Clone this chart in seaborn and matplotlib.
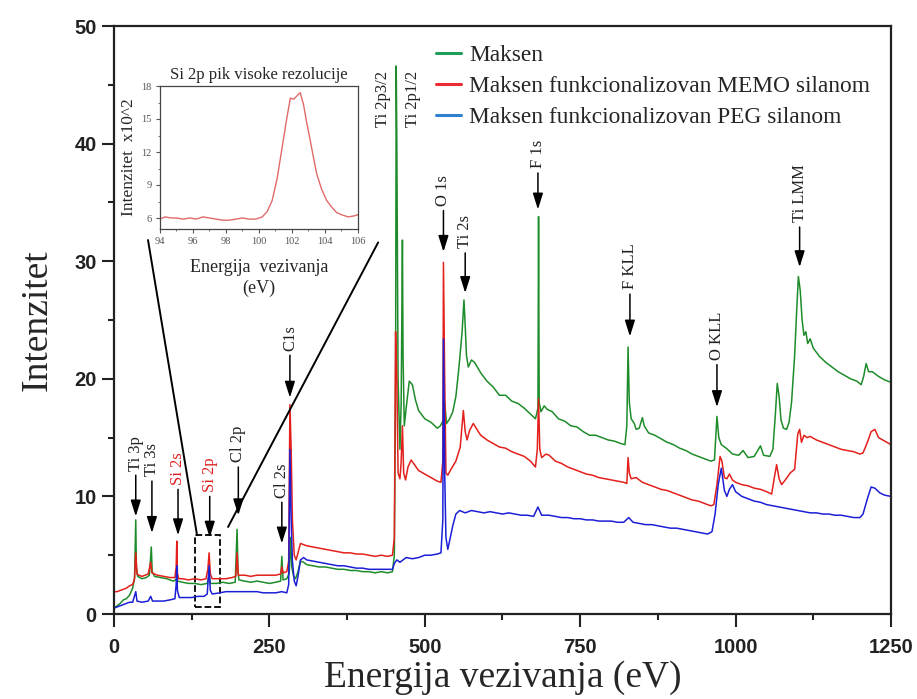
import numpy as np
import pandas as pd
import matplotlib
matplotlib.use('Agg')
import matplotlib.pyplot as plt
from matplotlib.lines import Line2D
from matplotlib.patches import Rectangle
from matplotlib.ticker import MultipleLocator
import seaborn as sns

# XPS survey spectra (energy in eV, intensity)
maksen_e = [0, 5, 10, 15, 20, 25, 30, 33, 35, 36, 38, 45, 52, 57, 60, 61.5, 65, 75, 85, 95,
            100, 101, 102, 110, 120, 130, 140, 150, 153, 155, 165, 175, 185, 195, 198, 199.5,
            201, 210, 220, 230, 240, 250, 260, 268, 270, 272, 278, 282, 284, 286, 289, 292,
            296, 300, 305, 310, 320, 330, 340, 350, 360, 370, 380, 390, 400, 410, 420, 430,
            440, 448, 451, 453, 454, 455, 456, 457, 460, 462, 464, 465, 467, 470, 475, 480,
            485, 490, 500, 510, 520, 525, 530, 532, 535, 540, 545, 550, 555, 560, 563, 565,
            567, 570, 575, 580, 590, 600, 610, 620, 630, 640, 650, 660, 670, 678, 682, 683,
            684, 687, 692, 697, 705, 715, 725, 735, 745, 755, 765, 775, 785, 795, 805, 815,
            822, 825, 827, 829, 832, 837, 840, 845, 850, 853, 860, 870, 880, 890, 900, 910,
            920, 930, 940, 950, 960, 966, 970, 973, 977, 985, 995, 1005, 1012, 1020, 1030,
            1040, 1045, 1055, 1060, 1064, 1067, 1070, 1073, 1077, 1082, 1086, 1090, 1095,
            1098, 1101, 1104, 1107, 1110, 1113, 1116, 1120, 1125, 1135, 1145, 1155, 1165,
            1175, 1185, 1195, 1202, 1206, 1210, 1214, 1220, 1230, 1240, 1250]
maksen_i = [0.5, 0.7, 0.9, 1.2, 1.3, 1.6, 2.2, 3.0, 8.0, 4.0, 3.2, 3.0, 3.1, 3.3, 5.7, 3.6, 3.2, 3.1, 3.0, 2.8,
            2.9, 3.6, 2.8, 2.7, 2.6, 2.6, 2.5, 2.6, 3.3, 2.6, 2.6, 2.7, 2.6, 2.7, 7.2, 3.6,
            2.9, 2.8, 2.7, 2.8, 2.7, 2.6, 2.7, 2.8, 4.9, 2.9, 3.0, 3.5, 6.5, 4.0, 3.2, 3.0,
            3.6, 4.5, 4.4, 4.2, 4.1, 4.0, 4.0, 3.9, 3.8, 3.8, 3.7, 3.7, 3.6, 3.6, 3.5, 3.6,
            3.5, 3.6, 5.0, 20.0, 46.6, 40.0, 30.0, 20.0, 14.0, 18.0, 31.8, 22.0, 16.0, 17.5, 19.8, 19.5,
            18.2, 17.3, 16.6, 16.3, 15.8, 16.0, 16.5, 18.0, 16.2, 16.6, 17.2, 18.5, 21.0, 24.0, 26.7, 24.5,
            22.0, 21.0, 21.6, 21.4, 20.5, 19.8, 19.3, 18.6, 18.6, 18.1, 17.9, 17.5, 17.0, 16.6, 17.5, 33.8,
            18.0, 17.2, 17.7, 17.4, 17.2, 16.6, 16.4, 16.0, 15.9, 15.5, 15.2, 15.2, 15.0, 14.8, 14.7, 14.5,
            14.4, 16.0, 22.7, 18.0, 16.6, 16.2, 15.7, 15.8, 16.7, 16.0, 15.4, 15.2, 14.9, 14.6, 14.4, 14.1,
            13.9, 13.6, 13.4, 13.2, 13.0, 13.1, 16.8, 15.0, 14.4, 14.1, 13.6, 13.5, 13.9, 13.3, 13.4,
            14.3, 13.5, 13.4, 14.0, 17.0, 19.6, 18.5, 16.5, 15.8, 15.7, 16.3, 18.0, 22.0,
            25.5, 28.7, 27.5, 25.0, 23.7, 24.0, 23.0, 23.4, 22.6, 21.9, 21.4, 21.0, 20.6,
            20.3, 20.0, 19.8, 19.5, 20.2, 21.3, 20.6, 20.6, 20.2, 19.9, 19.7]

memo_e = [0, 5, 10, 15, 20, 25, 30, 33, 35, 37, 40, 45, 50, 55, 59, 61, 65, 70, 80, 90, 98,
          100, 101, 102, 104, 110, 120, 130, 140, 148, 151, 153, 155, 158, 170, 180, 190,
          196, 198, 200, 210, 220, 230, 240, 250, 260, 268, 270, 272, 278, 281, 283, 285,
          287, 290, 293, 297, 300, 305, 310, 320, 330, 340, 350, 360, 370, 380, 390, 400,
          410, 420, 430, 440, 448, 451, 453, 455, 457, 460, 462, 464, 466, 469, 473, 478,
          482, 490, 500, 510, 520, 526, 529, 530, 532, 534, 537, 542, 550, 557, 562, 565,
          568, 572, 578, 585, 590, 600, 610, 620, 630, 640, 650, 660, 670, 678, 681, 683,
          685, 688, 695, 700, 710, 720, 730, 740, 750, 760, 770, 780, 790, 800, 810, 820,
          825, 827, 829, 832, 840, 850, 860, 870, 880, 890, 900, 910, 920, 930, 940, 950,
          960, 965, 970, 975, 978, 982, 986, 990, 995, 1000, 1010, 1020, 1030, 1040, 1050,
          1058, 1062, 1066, 1070, 1074, 1080, 1088, 1095, 1100, 1103, 1106, 1110, 1115,
          1120, 1130, 1140, 1150, 1160, 1170, 1180, 1190, 1200, 1205, 1212, 1218, 1224,
          1230, 1240, 1250]
memo_i = [1.9, 1.9, 2.0, 2.1, 2.2, 2.4, 2.5, 3.0, 5.2, 3.4, 3.3, 3.2, 3.3, 3.4, 4.4, 3.5, 3.4, 3.3, 3.2, 3.1, 3.1,
          4.0, 6.2, 3.5, 3.0, 3.0, 2.9, 3.0, 2.9, 3.0, 3.8, 5.2, 3.4, 3.0, 3.0, 3.0, 3.1,
          3.2, 5.2, 3.3, 3.3, 3.2, 3.3, 3.3, 3.3, 3.3, 3.4, 4.0, 3.5, 3.6, 4.5, 17.8, 14.0,
          8.0, 5.0, 4.6, 5.4, 6.0, 5.9, 5.8, 5.7, 5.6, 5.5, 5.4, 5.3, 5.2, 5.2, 5.1, 5.1,
          5.0, 4.9, 5.0, 4.9, 5.0, 6.5, 24.0, 20.0, 12.0, 11.5, 13.0, 16.0, 12.0, 11.4, 12.5, 13.1,
          12.8, 12.2, 11.9, 11.6, 11.3, 11.2, 13.0, 29.9, 20.0, 12.0, 11.8, 12.3, 13.0, 14.2, 17.3, 15.5,
          14.8, 15.6, 16.2, 15.6, 15.2, 14.8, 14.5, 14.2, 14.1, 13.8, 13.6, 13.4, 13.0, 12.5, 14.0, 18.3,
          14.0, 13.3, 13.6, 13.5, 13.0, 12.8, 12.5, 12.3, 12.1, 11.9, 11.8, 11.6, 11.5, 11.4, 11.3, 11.2,
          11.1, 13.3, 12.0, 11.5, 11.6, 11.2, 11.0, 10.8, 10.6, 10.5, 10.3, 10.1, 9.9, 9.7, 9.6, 9.4,
          9.2, 9.3, 11.0, 13.4, 13.0, 11.6, 11.5, 11.9, 11.4, 11.2, 11.0, 10.9, 10.7, 10.6, 10.4,
          10.2, 11.5, 12.7, 11.5, 11.0, 11.4, 12.0, 12.3, 15.3, 15.7, 14.6, 15.2, 15.0,
          15.1, 14.8, 14.6, 14.4, 14.2, 14.0, 13.9, 13.8, 13.6, 13.7, 14.6, 15.5, 15.7,
          15.0, 14.7, 14.4]

peg_e = [0, 5, 10, 15, 20, 25, 30, 35, 37, 45, 55, 59, 62, 70, 80, 90, 98, 100, 101, 102, 105,
         115, 125, 135, 145, 150, 153, 155, 158, 170, 180, 190, 200, 210, 220, 230, 240, 250,
         260, 270, 278, 281, 283, 285, 287, 290, 293, 296, 300, 305, 310, 320, 330, 340, 350,
         360, 370, 380, 390, 400, 410, 420, 430, 440, 448, 451, 455, 460, 470, 480, 490, 500,
         510, 520, 526, 529, 530, 532, 534, 537, 541, 545, 550, 556, 565, 575, 585, 595, 605,
         615, 625, 635, 645, 655, 665, 675, 682, 688, 700, 710, 720, 730, 740, 750, 760, 770,
         780, 790, 800, 810, 820, 828, 835, 845, 855, 865, 875, 885, 895, 905, 915, 925, 935,
         945, 955, 962, 967, 972, 977, 982, 986, 990, 995, 1000, 1010, 1020, 1030, 1040, 1050,
         1060, 1070, 1080, 1090, 1100, 1110, 1120, 1130, 1140, 1150, 1160, 1170, 1180, 1190,
         1200, 1205, 1212, 1218, 1224, 1232, 1240, 1250]
peg_i = [0.5, 0.6, 0.7, 0.8, 0.9, 1.0, 1.0, 1.9, 1.1, 1.0, 1.1, 1.5, 1.1, 1.1, 1.1, 1.2, 1.3, 2.5, 4.1, 2.0, 1.4,
         1.4, 1.4, 1.5, 1.5, 1.7, 4.1, 2.0, 1.7, 1.8, 1.9, 1.9, 1.9, 1.9, 1.9, 1.9, 1.8, 1.8,
         1.8, 1.9, 1.8, 2.5, 14.0, 8.0, 4.5, 2.8, 2.4, 3.2, 4.6, 4.8, 4.6, 4.5, 4.4, 4.3, 4.2,
         4.1, 4.1, 4.0, 3.9, 3.9, 3.8, 3.8, 3.8, 3.8, 3.8, 4.3, 4.6, 4.4, 4.8, 4.7, 4.8, 5.0,
         5.0, 5.1, 5.2, 8.0, 23.4, 12.0, 6.5, 5.5, 6.5, 7.5, 8.5, 8.8, 8.6, 8.8, 8.7, 8.6, 8.7,
         8.6, 8.5, 8.6, 8.5, 8.4, 8.4, 8.3, 9.1, 8.4, 8.4, 8.3, 8.2, 8.2, 8.1, 8.1, 8.0, 8.0,
         7.9, 7.9, 7.9, 7.8, 7.8, 8.2, 7.8, 7.7, 7.6, 7.6, 7.5, 7.4, 7.3, 7.3, 7.2, 7.1, 7.0,
         6.9, 6.8, 7.0, 8.5, 11.0, 12.4, 10.5, 10.0, 10.6, 11.0, 10.4, 10.0, 9.8, 9.6, 9.5, 9.3,
         9.2, 9.1, 9.0, 8.9, 8.8, 8.7, 8.6, 8.6, 8.5, 8.5, 8.4, 8.4, 8.3, 8.2,
         8.2, 8.5, 9.8, 10.8, 10.7, 10.3, 10.1, 10.0]

# high resolution Si 2p peak (inset)
si2p_e = [94, 94.3, 94.7, 95, 95.4, 95.8, 96.2, 96.6, 97, 97.4, 97.8, 98.2, 98.6, 99, 99.4,
          99.8, 100.2, 100.5, 100.8, 101.1, 101.4, 101.7, 101.9, 102.1, 102.3, 102.5, 102.7,
          102.9, 103.1, 103.3, 103.5, 103.8, 104.1, 104.4, 104.7, 105.0, 105.4, 105.8, 106]
si2p_i = [5.9, 6.1, 6.0, 6.0, 5.9, 6.0, 5.9, 6.1, 6.0, 5.9, 5.8, 5.8, 5.9, 6.0, 5.9,
          5.9, 6.1, 6.6, 7.6, 9.6, 12.4, 15.2, 16.9, 16.8, 17.1, 17.4, 16.3,
          14.6, 13.1, 11.5, 10.0, 8.6, 7.6, 7.0, 6.5, 6.3, 6.1, 6.2, 6.3]

labels = ['Maksen', 'Maksen funkcionalizovan MEMO silanom', 'Maksen funkcionalizovan PEG silanom']
line_colors = ['#1e8c2a', '#e3201b', '#1c1fd6']
legend_colors = ['#1f9e5a', '#ee2a33', '#2f80d0']

# peak labels: (energy, arrow tip, label bottom, text, colour)
peaks = [
    (35, 8.3, 12.2, 'Ti 3p', '#222222'),
    (61, 6.9, 11.7, 'Ti 3s', '#222222'),
    (103, 6.7, 11.0, 'Si 2s', '#e02020'),
    (154, 6.5, 10.4, 'Si 2p', '#e02020'),
    (200, 8.4, 12.9, 'Cl 2p', '#222222'),
    (270, 6.0, 9.9, 'Cl 2s', '#222222'),
    (283, 18.4, 22.4, 'C1s', '#222222'),
    (530, 30.8, 34.7, 'O 1s', '#222222'),
    (565, 27.3, 31.1, 'Ti 2s', '#222222'),
    (682, 34.4, 37.9, 'F 1s', '#222222'),
    (830, 23.6, 27.6, 'F KLL', '#222222'),
    (970, 17.6, 21.6, 'O KLL', '#222222'),
    (1103, 29.5, 33.3, 'Ti LMM', '#222222'),
]
plain_labels = [(433, 41.4, 'Ti 2p3/2'), (481, 41.4, 'Ti 2p1/2')]

# zoom box around Si 2p and the lines to the inset
box_x, box_y, box_w, box_h = 130, 0.6, 41, 6.1
zoom_left = ([54.7, 133.6], [31.8, 6.7])
zoom_right = ([425, 183.5], [31.6, 7.4])

sns.set_style('ticks')
plt.rcParams['font.family'] = ['Liberation Serif', 'DejaVu Serif']

df = pd.DataFrame({
    'Energija': maksen_e + memo_e + peg_e,
    'Intenzitet': maksen_i + memo_i + peg_i,
    'Uzorak': [labels[0]] * len(maksen_e) + [labels[1]] * len(memo_e) + [labels[2]] * len(peg_e),
})

fig = plt.figure(figsize=(9.17, 6.99), dpi=100)
ax = fig.add_axes([114 / 917, 1 - 614 / 699, 777 / 917, 588 / 699])

sns.lineplot(data=df, x='Energija', y='Intenzitet', hue='Uzorak', hue_order=labels,
             palette=dict(zip(labels, line_colors)), estimator=None, linewidth=1.1,
             legend=False, ax=ax)

ax.set_xlim(0, 1250)
ax.set_ylim(0, 50)
ax.xaxis.set_major_locator(MultipleLocator(250))
ax.xaxis.set_minor_locator(MultipleLocator(125))
ax.yaxis.set_major_locator(MultipleLocator(10))
ax.yaxis.set_minor_locator(MultipleLocator(5))
ax.tick_params(which='major', length=9, width=1.5, direction='out', colors='#222222')
ax.tick_params(which='minor', length=4.5, width=1.5, direction='out', colors='#222222')
ax.tick_params(axis='x', which='major', pad=8)
for lab in ax.get_xticklabels() + ax.get_yticklabels():
    lab.set_family('Liberation Sans')
    lab.set_fontweight('bold')
    lab.set_fontsize(14.5)
for sp in ax.spines.values():
    sp.set_linewidth(1.6)
    sp.set_color('#222222')

ax.set_xlabel('Energija vezivanja (eV)', fontsize=27, labelpad=3)
ax.set_ylabel('Intenzitet', fontsize=27, labelpad=14)

for x, tip, txt_y, txt, col in peaks:
    ax.annotate(txt, xy=(x, tip), xytext=(x, txt_y), rotation=90, ha='center', va='bottom',
                fontsize=12, color=col,
                arrowprops=dict(arrowstyle='-|>,head_length=0.7,head_width=0.22', color='black',
                                lw=1.1, shrinkA=1, shrinkB=0, mutation_scale=14))
for x, y, txt in plain_labels:
    ax.text(x, y, txt, rotation=90, ha='center', va='bottom', fontsize=12, color='#222222')

ax.add_patch(Rectangle((box_x, box_y), box_w, box_h, fill=False, ls='--', lw=1.3, ec='black'))
ax.plot(*zoom_left, color='black', lw=1.4)
ax.plot(*zoom_right, color='black', lw=1.4)

handles = [Line2D([0], [0], color=c, lw=2.2) for c in legend_colors]
ax.legend(handles, labels, loc='upper left', bbox_to_anchor=(0.415, 0.968), frameon=False,
          fontsize=16.8, handlelength=1.05, handletextpad=0.35, labelspacing=0.42,
          borderpad=0, borderaxespad=0)

# inset with the high resolution Si 2p peak
axi = fig.add_axes([160 / 917, 1 - 229 / 699, 198 / 917, 143 / 699])
sns.lineplot(x=si2p_e, y=si2p_i, color='#e06a6a', linewidth=1.0, ax=axi)
axi.set_xlim(94, 106)
axi.set_ylim(5, 18)
axi.xaxis.set_major_locator(MultipleLocator(2))
axi.xaxis.set_minor_locator(MultipleLocator(1))
axi.set_yticks([6, 9, 12, 15, 18])
axi.yaxis.set_minor_locator(MultipleLocator(1.5))
axi.tick_params(which='major', length=3, width=0.8, labelsize=7.5, labelcolor='#555555',
                colors='#555555', pad=3)
axi.tick_params(which='minor', length=1.5, width=0.6, colors='#555555')
for sp in axi.spines.values():
    sp.set_linewidth(0.9)
    sp.set_color('#444444')
axi.set_title('Si 2p pik visoke rezolucije', fontsize=12, pad=5)
axi.set_xlabel('Energija  vezivanja\n(eV)', fontsize=13, labelpad=9, linespacing=1.3)
axi.set_ylabel('Intenzitet  x10^2', fontsize=12.5, labelpad=3)

fig.savefig('out.png', dpi=100)
